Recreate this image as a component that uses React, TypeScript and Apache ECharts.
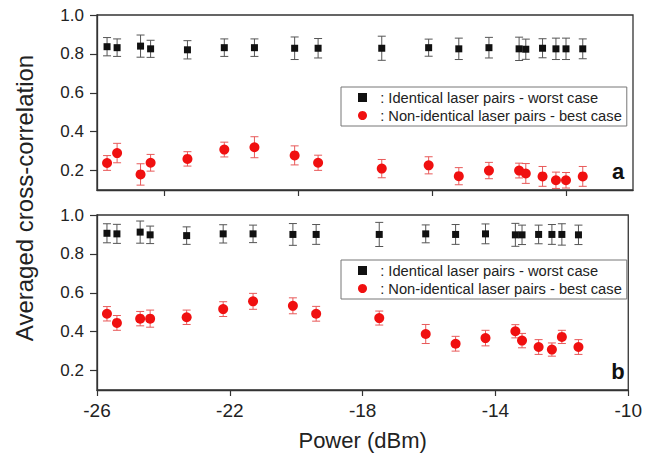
import React, { useEffect, useRef } from "react";
import * as echarts from "echarts";

const powerDbm = [-25.7, -25.4, -24.7, -24.4, -23.3, -22.2, -21.3, -20.1, -19.4, -17.5, -16.1, -15.2, -14.3, -13.4, -13.2, -12.7, -12.3, -12.0, -11.5];

const topIdentical = [0.837, 0.832, 0.84, 0.826, 0.821, 0.832, 0.832, 0.829, 0.829, 0.829, 0.832, 0.826, 0.832, 0.826, 0.824, 0.829, 0.826, 0.826, 0.826];
const topIdenticalErr = [0.047, 0.045, 0.057, 0.044, 0.047, 0.045, 0.045, 0.058, 0.05, 0.062, 0.044, 0.055, 0.053, 0.06, 0.052, 0.049, 0.055, 0.055, 0.051];
const topNonIdentical = [0.239, 0.29, 0.18, 0.24, 0.26, 0.308, 0.32, 0.278, 0.24, 0.21, 0.227, 0.171, 0.2, 0.2, 0.185, 0.17, 0.15, 0.15, 0.17];
const topNonIdenticalErr = [0.038, 0.05, 0.055, 0.043, 0.037, 0.038, 0.054, 0.049, 0.039, 0.047, 0.044, 0.044, 0.042, 0.038, 0.051, 0.051, 0.042, 0.04, 0.051];

const bottomIdentical = [0.906, 0.903, 0.912, 0.898, 0.894, 0.903, 0.903, 0.9, 0.9, 0.9, 0.903, 0.9, 0.903, 0.898, 0.898, 0.9, 0.9, 0.9, 0.898];
const bottomIdenticalErr = [0.049, 0.049, 0.057, 0.045, 0.045, 0.047, 0.045, 0.056, 0.051, 0.062, 0.046, 0.051, 0.051, 0.059, 0.05, 0.048, 0.051, 0.055, 0.05];
const bottomNonIdentical = [0.492, 0.445, 0.467, 0.467, 0.474, 0.516, 0.556, 0.533, 0.492, 0.47, 0.388, 0.338, 0.367, 0.402, 0.354, 0.321, 0.308, 0.373, 0.321];
const bottomNonIdenticalErr = [0.037, 0.038, 0.037, 0.044, 0.037, 0.038, 0.041, 0.041, 0.038, 0.036, 0.049, 0.038, 0.04, 0.034, 0.037, 0.038, 0.034, 0.034, 0.038];

const xTicksBottom = [-26, -22, -18, -14, -10];
const xTicksTop = [-24, -20, -16, -12];
const yTicks = [0.2, 0.4, 0.6, 0.8, 1.0];

const NAME_ID = "Identical laser pairs - worst case";
const NAME_NON = "Non-identical laser pairs - best case";
const FONT = "'Liberation Sans', Arial, sans-serif";
const AXIS_COLOR = "#333";

function makeErrorSeries(name: string, xAxisIndex: number, ys: number[], errs: number[], color: string) {
  return {
    type: "custom",
    name: name + " err",
    xAxisIndex,
    yAxisIndex: xAxisIndex,
    z: 2,
    silent: true,
    data: powerDbm.map((x, i) => [x, ys[i], errs[i]]),
    encode: { x: 0, y: 1 },
    renderItem: (params: any, api: any) => {
      const x = api.value(0);
      const y = api.value(1);
      const e = api.value(2);
      const hi = api.coord([x, y + e]);
      const lo = api.coord([x, y - e]);
      const cw = 4;
      const style = { stroke: color, lineWidth: 1 };
      return {
        type: "group",
        children: [
          { type: "line", shape: { x1: hi[0], y1: hi[1], x2: lo[0], y2: lo[1] }, style },
          { type: "line", shape: { x1: hi[0] - cw, y1: hi[1], x2: hi[0] + cw, y2: hi[1] }, style },
          { type: "line", shape: { x1: lo[0] - cw, y1: lo[1], x2: lo[0] + cw, y2: lo[1] }, style },
        ],
      };
    },
  };
}

function makeScatter(name: string, idx: number, ys: number[], symbol: string, size: number, color: string) {
  return {
    type: "scatter",
    name,
    xAxisIndex: idx,
    yAxisIndex: idx,
    z: 3,
    symbol,
    symbolSize: size,
    itemStyle: { color, opacity: 1 },
    data: powerDbm.map((x, i) => [x, ys[i]]),
  };
}

function yAxisOpt(gridIndex: number) {
  return {
    type: "value",
    gridIndex,
    min: 0.1,
    max: 1.0,
    axisLine: { show: true, lineStyle: { color: AXIS_COLOR, width: 1.3 } },
    axisTick: { show: true, inside: false, length: 7, customValues: yTicks, lineStyle: { color: AXIS_COLOR, width: 1.2 } },
    axisLabel: {
      show: true,
      customValues: yTicks,
      margin: 13,
      fontSize: 17,
      fontFamily: FONT,
      color: "#222",
      formatter: (v: number) => v.toFixed(1),
    },
    splitLine: { show: false },
  };
}

function legendOpt(top: number) {
  return {
    orient: "vertical",
    left: 341,
    top,
    padding: [3, 5, 3, 17],
    itemGap: 3,
    itemWidth: 9,
    itemHeight: 9,
    borderColor: "#777",
    borderWidth: 1,
    borderRadius: 0,
    backgroundColor: "#fff",
    selectedMode: false,
    textStyle: { fontSize: 14.7, fontFamily: FONT, color: "#222" },
    formatter: (name: string) => "\u00a0\u00a0: " + name,
    data: [
      { name: NAME_ID, icon: "rect" },
      { name: NAME_NON, icon: "circle" },
    ],
  };
}

export default function App() {
  const ref = useRef<HTMLDivElement>(null);
  useEffect(() => {
    if (!ref.current) return;
    const chart = echarts.init(ref.current, null, { renderer: "svg" });
    const option: any = {
      animation: false,
      backgroundColor: "#fff",
      grid: [
        { left: 97, right: 12, top: 15, bottom: 269, show: true, borderColor: AXIS_COLOR, borderWidth: 1.3, backgroundColor: "transparent" },
        { left: 97, right: 12, top: 215, bottom: 69, show: true, borderColor: AXIS_COLOR, borderWidth: 1.3, backgroundColor: "transparent" },
      ],
      xAxis: [
        {
          type: "value",
          gridIndex: 0,
          min: -26,
          max: -10,
          axisLine: { show: true, lineStyle: { color: AXIS_COLOR, width: 1.3 } },
          axisTick: { show: true, inside: false, length: 6, customValues: xTicksTop, lineStyle: { color: AXIS_COLOR, width: 1.2 } },
          axisLabel: { show: false },
          splitLine: { show: false },
        },
        {
          type: "value",
          gridIndex: 1,
          min: -26,
          max: -10,
          name: "Power (dBm)",
          nameLocation: "middle",
          nameGap: 39,
          nameTextStyle: { fontSize: 22, fontFamily: FONT, color: "#222" },
          axisLine: { show: true, lineStyle: { color: AXIS_COLOR, width: 1.3 } },
          axisTick: { show: true, inside: false, length: 6, customValues: xTicksBottom, lineStyle: { color: AXIS_COLOR, width: 1.2 } },
          axisLabel: { show: true, customValues: xTicksBottom, margin: 11, fontSize: 19, fontFamily: FONT, color: "#222" },
          splitLine: { show: false },
        },
      ],
      yAxis: [yAxisOpt(0), yAxisOpt(1)],
      legend: [legendOpt(87), legendOpt(260)],
      graphic: [
        {
          type: "text",
          x: 24,
          y: 198,
          rotation: Math.PI / 2,
          style: { text: "Averaged cross-correlation", fontSize: 24, fontFamily: FONT, fill: "#222", align: "center", verticalAlign: "middle" },
        },
        { type: "text", x: 618, y: 171, style: { text: "a", fontSize: 22, fontWeight: "bold", fontFamily: FONT, fill: "#111", align: "center", verticalAlign: "middle" } },
        { type: "text", x: 618, y: 371, style: { text: "b", fontSize: 22, fontWeight: "bold", fontFamily: FONT, fill: "#111", align: "center", verticalAlign: "middle" } },
      ],
      series: [
        makeErrorSeries(NAME_ID, 0, topIdentical, topIdenticalErr, "#555"),
        makeErrorSeries(NAME_NON, 0, topNonIdentical, topNonIdenticalErr, "#e85a5a"),
        makeErrorSeries(NAME_ID, 1, bottomIdentical, bottomIdenticalErr, "#555"),
        makeErrorSeries(NAME_NON, 1, bottomNonIdentical, bottomNonIdenticalErr, "#e85a5a"),
        makeScatter(NAME_ID, 0, topIdentical, "rect", 7, "#111"),
        makeScatter(NAME_NON, 0, topNonIdentical, "circle", 10, "#f01010"),
        makeScatter(NAME_ID, 1, bottomIdentical, "rect", 7, "#111"),
        makeScatter(NAME_NON, 1, bottomNonIdentical, "circle", 10, "#f01010"),
      ],
    };
    chart.setOption(option);
    return () => chart.dispose();
  }, []);
  return <div ref={ref} style={{ position: "fixed", left: 0, top: 0, width: 645, height: 459 }} />;
}
